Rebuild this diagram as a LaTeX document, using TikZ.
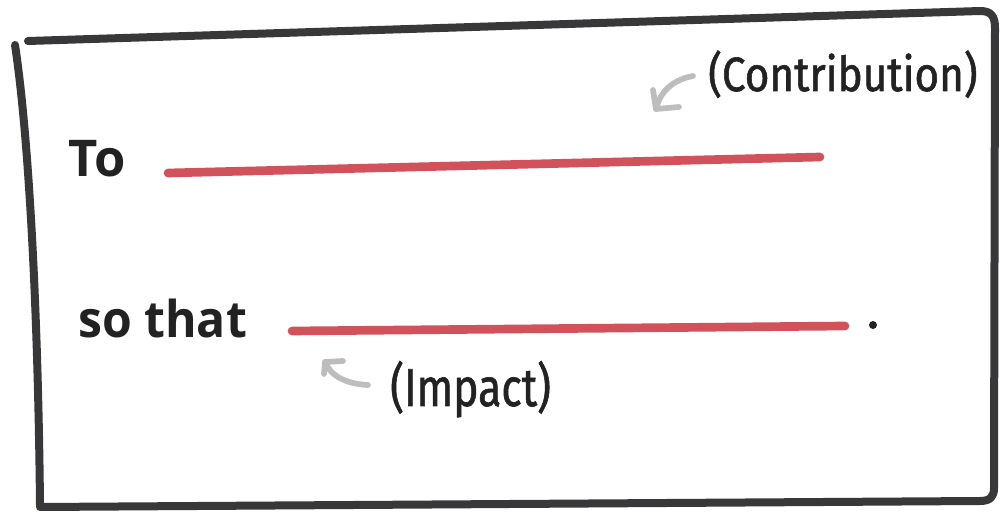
\documentclass[tikz,border=0pt]{standalone}
\usepackage{fontspec}
\setmainfont{Open Sans}
\newfontfamily\handfont[FakeBold=1.3]{Fira Sans}
\definecolor{boxdark}{HTML}{38383A}
\definecolor{redline}{HTML}{D2525C}
\definecolor{arrowgray}{HTML}{BDBDBD}
\definecolor{inkdark}{HTML}{222222}
\tikzset{
  boxstroke/.style={draw=boxdark, line width=6pt, line cap=round, line join=round},
  blank/.style={draw=redline, line width=6.5pt, line cap=round},
  hintarrow/.style={draw=arrowgray, line width=4.3pt, line cap=round, line join=round},
  bigword/.style={font=\fontsize{38}{40}\selectfont\bfseries, text=inkdark, inner sep=0pt, anchor=base west},
  handnote/.style={font=\handfont, text=inkdark, inner sep=0pt, anchor=base west},
}
\begin{document}
\begin{tikzpicture}[x=0.75pt, y=-0.75pt]
\useasboundingbox (0,0) rectangle (1000,513);
% frame
\draw[boxstroke] (15,45) .. controls (28,130) and (38,300) .. (40,505);
\draw[boxstroke] (28,41) -- (980,11) .. controls (991,11) and (995,16) .. (995,28)
  -- (994,488) .. controls (994,497) and (990,501) .. (980,501) -- (40,507);
% words
\node[bigword] (to) at (68,177) {To};
\node[bigword, xscale=0.95] (sothat) at (78,338) {so that};
% blanks
\coordinate (b1s) at (168,173);
\coordinate (b1e) at (820,157);
\coordinate (b2s) at (292,331);
\coordinate (b2e) at (845,326);
\draw[blank] (b1s) -- (b1e);
\draw[blank] (b2s) -- (b2e);
\fill[inkdark] (873,325) circle (4);
% notes
\node[handnote, font=\handfont\fontsize{36}{38}\selectfont, xscale=0.88] (contrib) at (708,91) {(Contribution)};
\node[handnote, font=\handfont\fontsize{40}{42}\selectfont, xscale=0.8] (impact) at (390,406) {(Impact)};
% hint arrows
\coordinate (c0) at (693,76);
\coordinate (c1) at (656,109);
\coordinate (c2) at (325,362);
\coordinate (c3) at (368,385);
\draw[hintarrow] (c0) .. controls (672,80) and (660,92) .. (c1);
\draw[hintarrow] (653,90) -- (c1) -- (679,107);
\draw[hintarrow] (c2) .. controls (330,375) and (345,384) .. (c3);
\draw[hintarrow] (343,361) -- (c2) -- (324,374);
\end{tikzpicture}
\end{document}
